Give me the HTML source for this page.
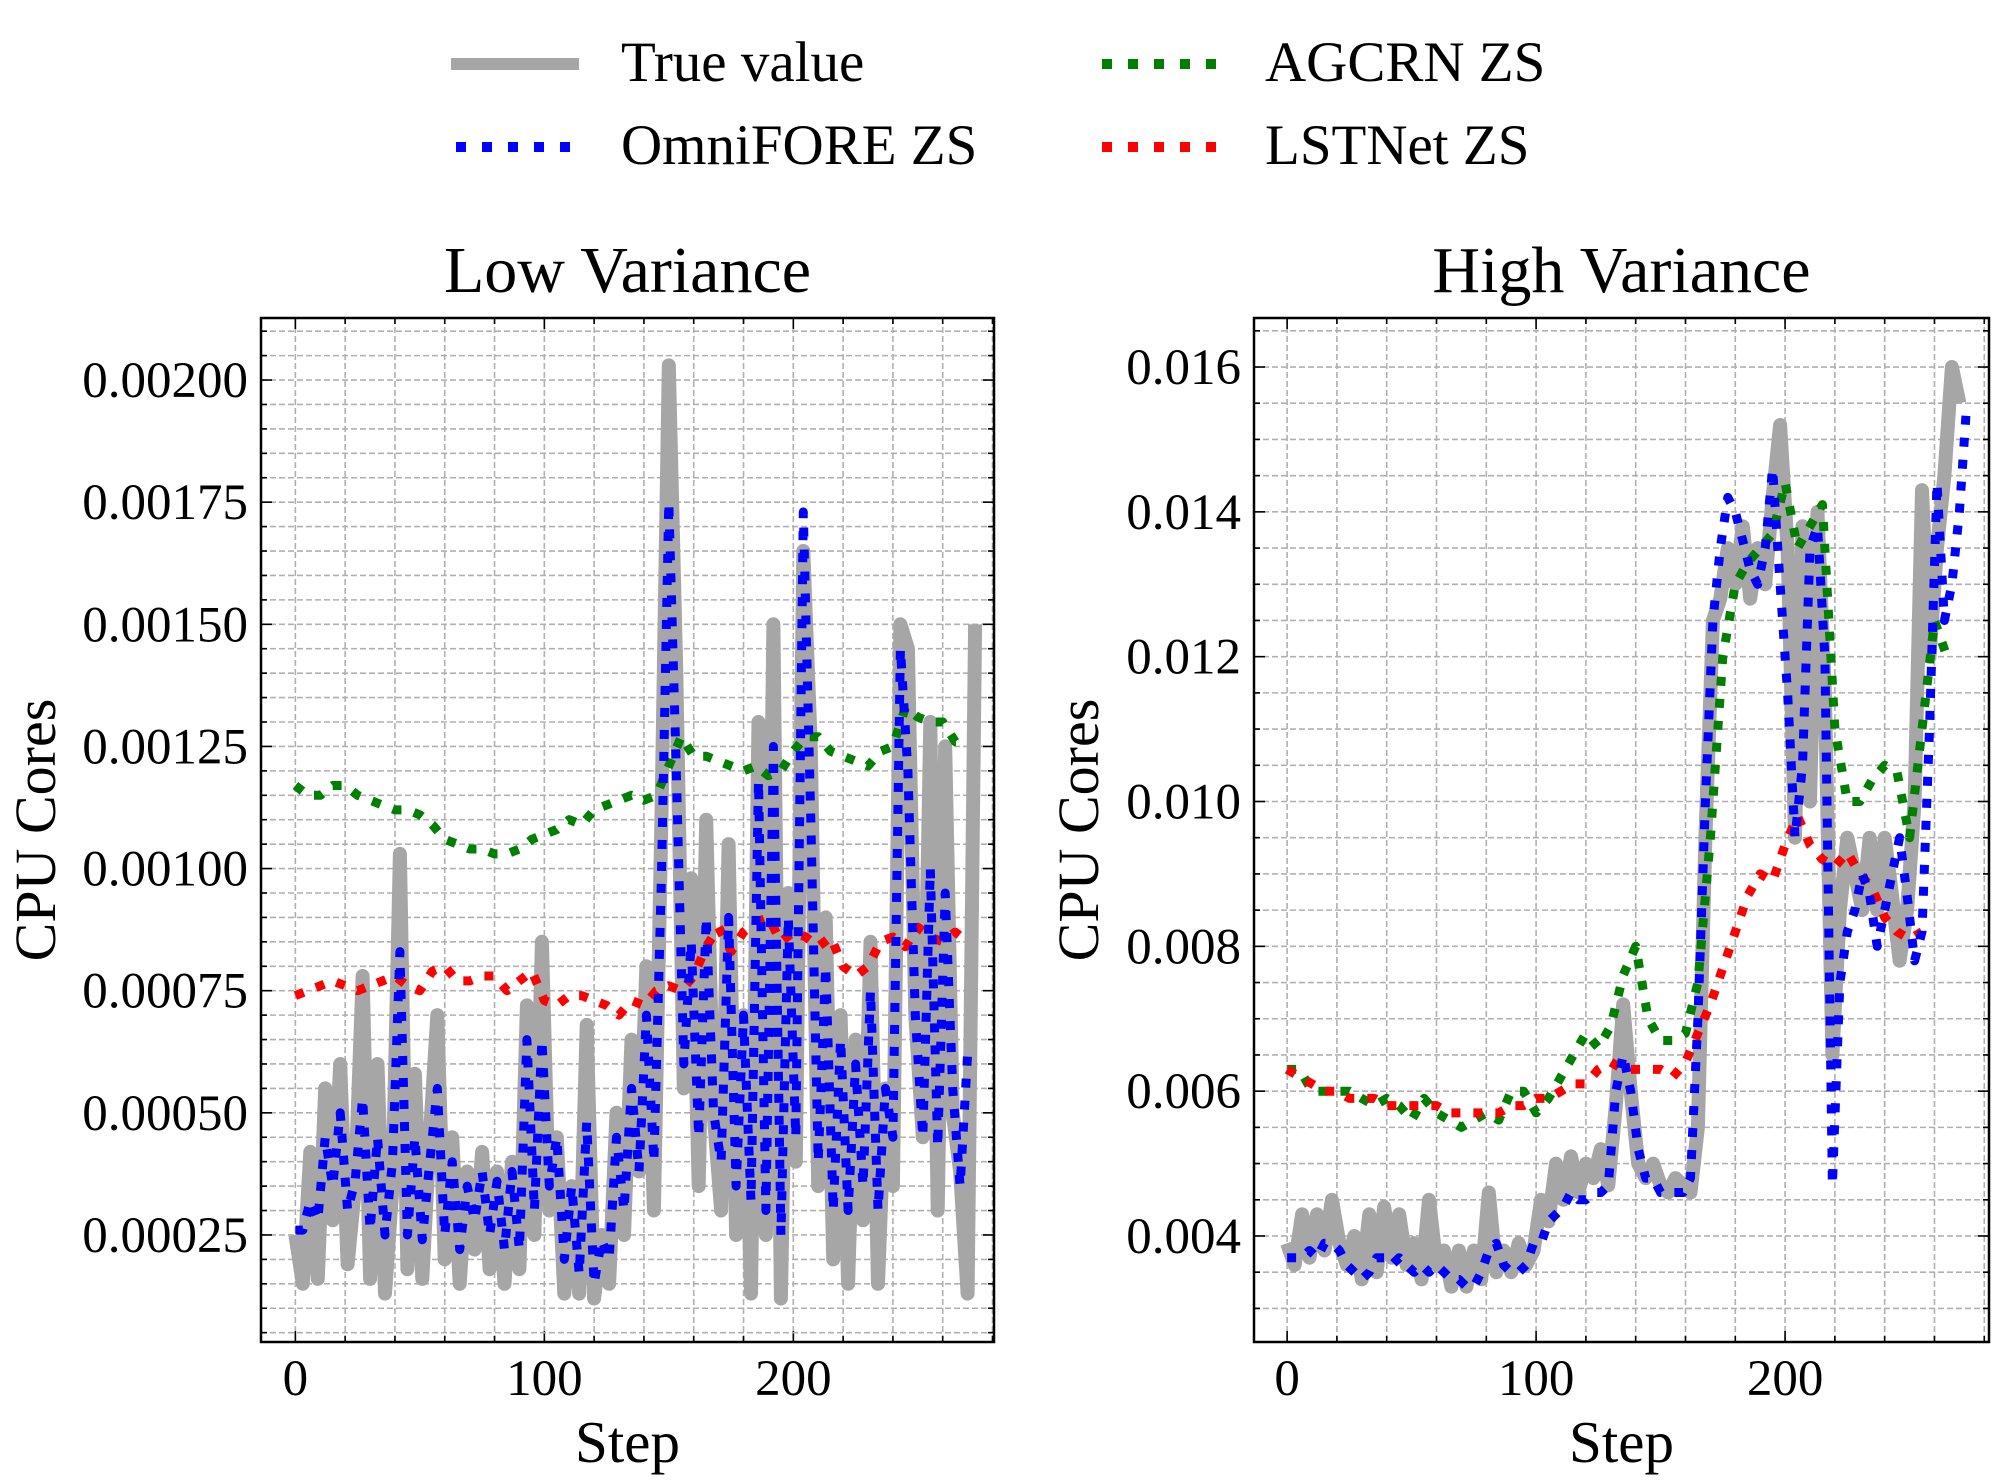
<!DOCTYPE html>
<html><head><meta charset="utf-8"><style>
html,body{margin:0;padding:0;background:#fff;}
svg{display:block;font-family:"Liberation Serif","DejaVu Serif",serif;}
</style></head><body>
<svg id="chart" width="2004" height="1483" viewBox="0 0 2004 1483" xmlns="http://www.w3.org/2000/svg">
<g>
<line x1="451" y1="64" x2="579" y2="64" stroke="#a6a6a6" stroke-width="12"/>
<text x="621" y="81" font-size="57">True value</text>
<line x1="456" y1="147" x2="579" y2="147" stroke="#0000ff" stroke-width="10" stroke-dasharray="10 16"/>
<text x="621" y="164" font-size="57">OmniFORE ZS</text>
<line x1="1102" y1="64" x2="1218" y2="64" stroke="#008000" stroke-width="10" stroke-dasharray="10 16"/>
<text x="1265" y="81" font-size="57">AGCRN ZS</text>
<line x1="1102" y1="147" x2="1218" y2="147" stroke="#ff0000" stroke-width="10" stroke-dasharray="10 16"/>
<text x="1265" y="164" font-size="57">LSTNet ZS</text>
</g>
</svg>
<script>
// ---- data (Low Variance, units 1e-4 CPU cores) ----
const lowTrue = [2.5,1.5,4.2,1.6,5.5,2.8,6.0,1.9,3.5,7.8,1.6,6.0,1.3,3.5,10.3,1.8,5.8,1.6,4.5,7.0,2.0,4.5,1.5,3.8,2.2,4.2,1.8,3.8,1.5,4.0,1.8,7.2,2.5,8.5,3.0,4.5,1.3,3.5,1.3,6.8,1.2,2.5,1.5,5.0,2.5,6.5,3.8,8.0,3.0,11.0,20.3,14.0,5.5,9.8,3.5,11.0,5.0,3.0,10.5,2.5,7.0,1.3,13.0,2.5,15.0,1.2,9.5,4.0,16.5,12.5,3.5,9.0,2.0,7.0,1.5,6.5,2.8,8.5,1.5,5.5,3.5,15.0,14.5,7.0,4.5,13.0,3.0,12.5,5.0,3.8,1.3,15.0];
const lowOmni = [2.6,2.6,3.2,2.8,4.5,3.5,5.0,3.0,3.6,5.3,2.6,4.5,2.5,4.0,8.3,2.5,4.5,2.4,4.0,5.5,2.5,4.0,2.2,3.5,2.8,3.8,2.5,3.6,2.2,3.8,2.2,6.5,3.0,6.5,3.5,4.5,2.0,3.5,1.7,4.8,1.5,2.4,2.0,4.5,3.0,5.5,3.8,7.0,4.0,9.8,17.5,12.0,6.0,8.5,4.5,9.0,5.0,4.0,9.0,3.5,7.0,3.2,11.8,3.0,12.5,2.5,9.0,4.5,17.3,11.0,4.0,8.0,3.0,6.5,3.0,6.0,3.5,7.5,3.0,5.5,4.5,14.5,12.0,7.0,4.5,10.0,4.3,9.5,5.5,3.5,6.2];
const lowAgcrn = [11.7,11.5,11.5,11.7,11.7,11.5,11.4,11.3,11.2,11.2,11.1,10.9,10.6,10.5,10.4,10.4,10.3,10.3,10.4,10.6,10.7,10.8,11.0,10.9,11.2,11.3,11.4,11.5,11.4,11.5,12.1,12.7,12.3,12.3,12.2,12.1,12.0,12.1,11.9,12.0,12.4,12.7,12.7,12.4,12.3,12.2,12.1,12.4,12.5,13.3,13.1,13.0,13.0,12.6,12.6];
const lowLstnet = [7.4,7.5,7.6,7.7,7.6,7.5,7.6,7.7,7.8,7.6,7.5,7.9,8.0,7.7,7.7,7.8,7.8,7.5,7.7,7.9,7.3,7.2,7.4,7.4,7.3,7.2,7.0,7.3,7.2,7.5,7.6,7.5,7.8,8.4,8.8,8.3,8.7,8.9,9.0,8.5,8.7,8.6,8.4,8.6,8.0,7.8,8.0,8.5,8.6,8.4,8.8,8.6,8.5,8.7,8.5];
// ---- data (High Variance, units 1e-3 CPU cores) ----
const highTrue = [3.9,3.6,4.3,3.7,4.3,3.8,4.5,3.9,3.6,4.0,3.4,4.3,3.5,4.4,3.7,4.3,3.6,3.9,3.4,4.5,3.6,3.8,3.3,3.8,3.3,3.8,3.4,4.6,3.5,3.8,3.5,3.9,3.6,3.8,4.5,4.2,5.0,4.5,5.1,4.6,5.0,4.8,5.2,4.7,5.8,7.2,6.0,5.0,4.8,5.0,4.7,4.6,4.8,4.7,4.6,5.5,9.5,12.5,12.8,13.5,13.0,13.8,12.8,13.5,13.0,14.2,15.2,13.5,9.5,13.8,10.0,14.0,11.5,6.5,8.5,9.5,9.0,8.5,9.5,8.5,9.5,8.7,7.8,8.5,10.0,14.3,12.0,13.5,14.5,16.0,15.5];
const highOmni = [3.7,3.7,3.7,3.8,3.7,3.9,3.9,3.8,3.6,3.5,3.4,3.5,3.7,3.7,3.6,3.7,3.6,3.5,3.6,3.5,3.6,3.5,3.4,3.4,3.3,3.3,3.5,3.8,3.9,3.6,3.5,3.5,3.6,3.9,3.9,4.2,4.3,4.4,4.6,4.5,4.5,4.6,4.6,4.7,6.0,6.5,6.0,5.2,4.8,4.8,4.6,4.6,4.6,4.6,4.8,7.0,10.0,12.5,13.5,14.2,14.0,13.6,13.2,13.0,13.5,14.6,13.0,11.5,9.5,10.5,13.5,13.8,12.0,4.7,7.5,8.2,8.5,9.0,8.7,8.0,8.5,9.0,9.5,8.7,7.8,8.2,11.0,14.4,12.5,13.0,14.0,15.5];
const highAgcrn = [6.3,6.3,6.0,6.0,6.0,6.0,5.9,5.8,5.9,5.8,5.6,5.9,5.7,5.6,5.5,5.6,5.7,5.6,6.0,6.0,5.7,5.9,6.2,6.5,6.8,6.6,6.9,7.6,8.0,7.0,6.7,6.7,6.8,7.5,9.5,12.0,13.0,13.3,13.5,13.7,14.4,13.5,13.8,14.1,11.0,10.0,10.0,10.3,10.5,10.4,9.5,11.0,12.5,12.0];
const highLstnet = [6.3,6.2,6.1,6.0,6.0,5.9,5.9,5.9,5.8,5.8,5.8,5.8,5.8,5.7,5.7,5.7,5.7,5.7,5.8,5.8,5.9,5.9,6.0,6.1,6.1,6.3,6.4,6.3,6.3,6.3,6.3,6.2,6.4,6.8,7.2,7.7,8.2,8.7,9.0,8.9,9.4,9.8,9.4,9.2,9.1,9.3,9.0,8.8,8.4,8.2,8.1,8.2];
const xTicks = [0,100,200];
const lowYTicks = ["0.00025","0.00050","0.00075","0.00100","0.00125","0.00150","0.00175","0.00200"];
const highYTicks = ["0.004","0.006","0.008","0.010","0.012","0.014","0.016"];

const NS = "http://www.w3.org/2000/svg";
const svg = document.getElementById('chart');
function mk(tag, attrs, parent){const e=document.createElementNS(NS,tag);for(const k in attrs)e.setAttribute(k,attrs[k]);(parent||svg).appendChild(e);return e;}

function panel(cfg){
  const g = mk('g',{});
  
  
  const {L,R,T,B,x0,x1,y0,y1} = cfg;
  const sx = v => L + (v - x0)/(x1 - x0)*(R - L);
  const sy = v => B - (v - y0)/(y1 - y0)*(B - T);
  for (let v = 0; v <= x1; v += 20) {
    const gl = mk('line',{x1:sx(v),x2:sx(v),y1:T,y2:B,stroke:'#b0b0b0','stroke-width':1.6,'stroke-dasharray':'6 3'},g);
    
    
    mk('line',{x1:sx(v),x2:sx(v),y1:B,y2:B-(v%100===0?11:6),stroke:'#000','stroke-width':1.6},g);
    mk('line',{x1:sx(v),x2:sx(v),y1:T,y2:T+(v%100===0?11:6),stroke:'#000','stroke-width':1.6},g);
  }
  for (let k = Math.ceil(y0/cfg.minor); k*cfg.minor <= y1; k++) {
    const v = k*cfg.minor;
    const major = k % cfg.perMajor === 0;
    const gl = mk('line',{x1:L,x2:R,y1:sy(v),y2:sy(v),stroke:'#b0b0b0','stroke-width':1.6,'stroke-dasharray':'6 3'},g);
    
    
    mk('line',{x1:L,x2:L+(major?11:6),y1:sy(v),y2:sy(v),stroke:'#000','stroke-width':1.6},g);
    mk('line',{x1:R,x2:R-(major?11:6),y1:sy(v),y2:sy(v),stroke:'#000','stroke-width':1.6},g);
  }
  const series = [
    [cfg.trueVals, cfg.trueStep, '#a6a6a6', 14, null, 'true-value-line'],
    [cfg.agcrn, 5, '#008000', 9, '9 13', 'agcrn-line'],
    [cfg.lstnet, 5, '#ff0000', 9, '9 13', 'lstnet-line'],
    [cfg.omni, cfg.trueStep, '#0000ff', 9, '9 13', 'omnifore-line'],
  ];
  const clip = mk('clipPath',{id:cfg.name+'-clip'},g);
  mk('rect',{x:L,y:T,width:R-L,height:B-T},clip);
  for (const [vals, step, col, w, dash, nm] of series) {
    const d = vals.map((v,i)=>(i?'L':'M')+sx(i*step).toFixed(1)+','+sy(v*cfg.unit).toFixed(1)).join(' ');
    const p = mk('path',{d:d,fill:'none',stroke:col,'stroke-width':w,'stroke-linejoin':'round','clip-path':'url(#'+cfg.name+'-clip)'},g);
    if (dash) p.setAttribute('stroke-dasharray', dash);
    
    
  }
  const fr = mk('rect',{x:L,y:T,width:R-L,height:B-T,fill:'none',stroke:'#000','stroke-width':2.5},g);
  
  
  for (const v of xTicks) {
    const t = mk('text',{x:sx(v),y:1395,'font-size':51,'text-anchor':'middle'},g);
    t.textContent = v;
    
    
  }
  cfg.yTicks.forEach(lbl=>{
    const t = mk('text',{x:cfg.labelRight,y:sy(parseFloat(lbl))+17,'font-size':51,'text-anchor':'end'},g);
    t.textContent = lbl;
    
    
  });
  const tt = mk('text',{x:(L+R)/2,y:292,'font-size':66,'text-anchor':'middle'},g);
  tt.textContent = cfg.title;
  
  
  const xl = mk('text',{x:(L+R)/2,y:1462,'font-size':59,'text-anchor':'middle'},g);
  xl.textContent = 'Step';
  
  
  const yl = mk('text',{x:0,y:0,'font-size':58,'text-anchor':'middle',transform:'translate('+cfg.ylabX+',830) rotate(-90)'},g);
  yl.textContent = 'CPU Cores';
  
  
}

panel({name:'low-variance-panel',title:'Low Variance',L:261,R:994,T:318,B:1342,x0:-13.8,x1:280.6,
  y0:0.0000309,y1:0.002127,minor:0.00005,perMajor:5,unit:1e-4,
  trueVals:lowTrue,omni:lowOmni,agcrn:lowAgcrn,lstnet:lowLstnet,trueStep:3,
  yTicks:lowYTicks,labelRight:248,ylabX:55});
panel({name:'high-variance-panel',title:'High Variance',L:1254,R:1989,T:318,B:1342,x0:-13.3,x1:281.9,
  y0:0.002536,y1:0.016677,minor:0.0005,perMajor:4,unit:1e-3,
  trueVals:highTrue,omni:highOmni,agcrn:highAgcrn,lstnet:highLstnet,trueStep:3,
  yTicks:highYTicks,labelRight:1241,ylabX:1098});
</script>
</body></html>
